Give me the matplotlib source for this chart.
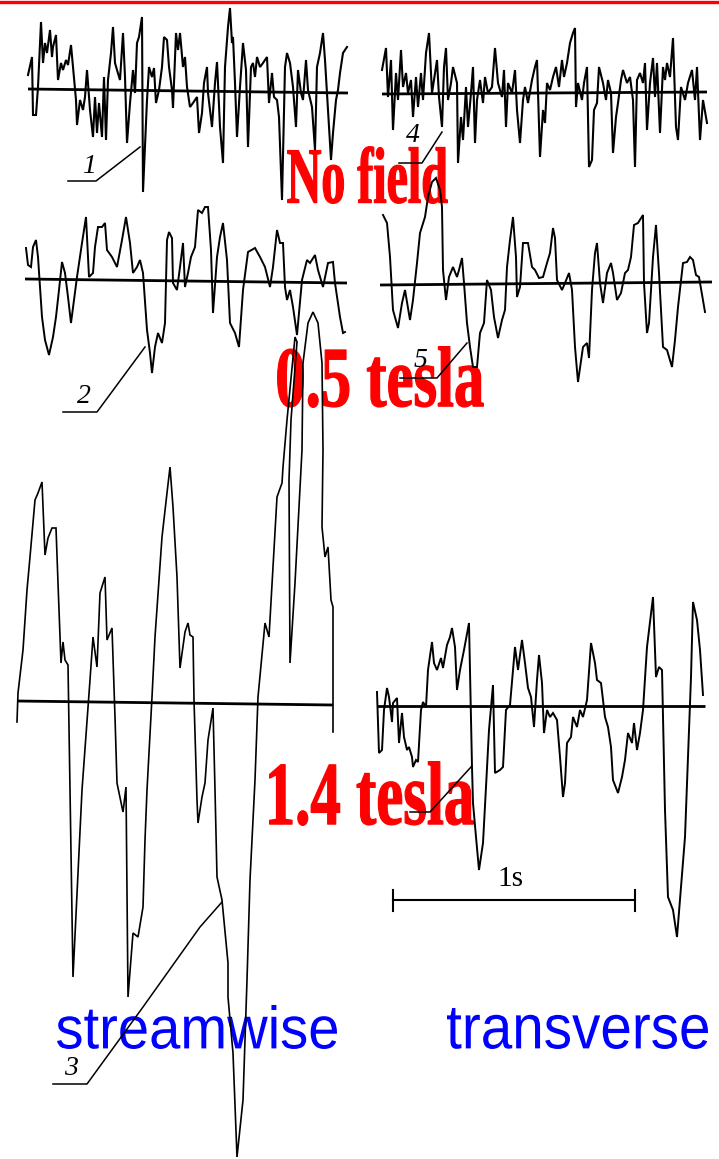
import matplotlib
matplotlib.use("Agg")
import matplotlib.pyplot as plt
from matplotlib.patheffects import AbstractPathEffect
from matplotlib.transforms import Affine2D

# ---------------- data (pixel units) ----------------
# trace 1: no field, streamwise
trace1_t = [28,32,33,36,38,41,43,45,47,50,52,53,56,58,61,63,66,68,71,73,76,77,80,83,85,87,90,93,95,97,99,102,104,106,108,111,113,115,117,120,123,125,127,130,133,135,137,139,142,143,147,149,152,154,156,159,162,164,167,169,172,173,176,178,180,183,185,187,190,193,197,199,202,204,207,208,212,215,217,220,223,225,228,230,232,233,235,237,240,243,246,248,251,253,255,257,260,263,267,269,272,274,277,279,282,285,287,290,293,296,298,301,303,306,308,312,315,317,320,323,325,328,331,333,336,338,340,343,347]
trace1_v = [75,57,115,115,87,22,63,43,53,30,57,47,35,80,63,70,60,65,45,67,100,125,100,110,97,70,110,137,97,133,103,137,77,140,80,53,27,63,70,80,33,77,143,103,70,93,43,37,17,192,100,67,77,68,103,90,67,37,40,67,90,108,33,50,33,67,57,87,107,103,97,133,113,83,67,93,127,83,62,127,163,67,27,8,43,37,83,137,87,43,70,147,67,63,77,57,67,63,57,103,73,97,100,117,200,67,53,63,87,127,70,93,100,60,90,107,150,67,53,33,60,110,160,133,100,90,73,53,47]

# trace 4: no field, transverse
trace4_t = [382,386,388,391,393,396,398,401,403,406,408,411,413,416,418,421,423,426,429,432,434,437,439,442,444,446,448,451,453,457,458,461,463,466,468,471,473,475,477,480,483,485,488,492,495,498,502,504,506,508,512,515,517,520,523,525,528,532,535,537,540,543,545,547,550,553,556,559,562,564,567,570,573,575,576,578,582,584,587,589,592,594,597,599,603,606,608,611,613,616,618,621,623,627,630,633,635,637,640,643,645,647,650,653,655,657,660,663,665,667,670,673,676,678,681,685,688,692,695,697,700,703,707]
trace4_v = [70,48,97,60,130,73,100,50,87,73,93,80,117,77,107,73,100,53,33,93,80,60,97,127,67,48,100,83,67,83,163,117,140,87,127,93,67,143,100,80,103,77,93,87,48,83,97,70,127,83,93,70,110,143,100,87,103,80,67,60,157,110,123,83,90,77,67,87,60,77,63,43,33,28,107,83,100,83,67,167,160,110,103,67,83,100,80,93,153,117,103,80,70,83,77,100,167,80,73,83,63,130,83,58,97,63,133,67,80,63,77,38,127,140,87,100,83,70,100,67,140,100,123]

# trace 2: 0.5 tesla, streamwise
trace2_t = [26,28,31,33,36,38,42,45,49,53,56,59,62,65,68,71,74,77,82,86,89,93,95,98,102,105,107,112,117,122,126,130,133,137,140,143,147,150,152,155,158,162,165,167,169,172,173,177,180,183,185,188,191,195,198,202,205,208,211,213,217,220,223,227,230,235,239,243,248,255,260,265,270,273,277,280,283,285,287,290,293,297,302,307,310,315,318,323,328,333,335,340,343,345]
trace2_v = [248,265,267,247,240,257,317,340,355,337,317,290,262,273,297,323,300,277,243,217,277,273,247,227,227,223,250,257,267,240,217,243,273,267,260,273,330,353,373,347,333,343,323,240,232,238,283,290,267,243,287,273,257,247,210,213,207,207,250,313,257,237,223,260,323,333,347,290,252,248,257,267,287,267,230,243,243,287,300,290,307,335,280,260,263,255,270,287,263,262,283,317,333,332]

# trace 5: 0.5 tesla, transverse
trace5_t = [383,387,390,393,398,402,405,410,413,417,420,425,428,432,436,440,442,443,446,449,453,457,459,462,464,467,470,473,477,480,484,487,491,494,498,502,505,507,510,513,516,517,520,523,528,532,535,539,543,547,550,553,555,557,562,565,569,572,575,578,583,587,589,592,595,597,600,603,607,611,613,617,621,625,628,631,634,638,643,644,647,649,653,656,659,663,667,672,675,678,683,687,690,693,696,699,705]
trace5_v = [215,223,257,310,328,303,290,320,300,263,233,217,197,182,178,190,207,270,300,277,267,277,270,258,283,323,347,367,367,333,323,280,290,317,338,320,310,267,240,217,257,297,287,243,243,267,270,278,277,263,253,228,238,280,290,283,273,290,347,382,347,343,358,290,253,243,283,303,273,263,273,300,293,273,270,257,225,223,215,283,333,323,257,225,273,347,350,367,340,307,263,262,257,260,275,277,312]

# trace 3: 1.4 tesla, streamwise
trace3_t = [17,18,23,27,30,35,38,42,45,48,52,56,58,61,63,65,68,73,82,90,93,97,100,105,107,112,115,117,123,126,128,133,138,143,145,147,152,155,162,167,170,173,177,180,185,188,190,193,194,197,198,202,205,208,213,215,217,222,228,228,233,237,243,247,250,255,258,265,269,273,277,282,283,287,295,297,291,289,290,295,302,303,308,313,318,322,323,322,325,328,331,333,333]
trace3_v = [722,693,650,590,557,500,493,482,555,538,528,528,583,663,642,660,665,977,790,680,637,667,593,577,640,628,717,783,812,787,997,933,937,907,840,790,697,637,537,493,467,507,577,668,632,623,635,637,700,800,823,797,783,740,708,790,877,900,963,997,1053,1157,1100,980,880,780,697,623,637,567,497,483,467,420,337,342,420,480,663,583,450,363,323,312,323,363,450,527,557,547,600,607,732]

# trace 6: 1.4 tesla, transverse
trace6_t = [377,379,382,384,387,389,392,393,397,399,402,404,407,409,412,413,416,418,421,423,426,428,432,434,437,441,443,447,450,452,455,457,460,464,469,472,473,476,479,483,486,489,493,495,500,503,506,510,515,518,522,525,528,531,534,537,539,542,544,547,550,553,557,560,563,565,567,571,573,577,580,583,587,591,595,597,601,605,608,611,613,618,622,625,628,632,634,637,640,643,647,653,656,659,662,665,668,673,677,681,685,688,691,693,697,700,703]
trace6_v = [692,753,750,710,688,697,722,703,698,743,713,737,750,747,757,767,760,762,710,702,707,670,642,663,670,658,668,645,637,628,647,690,670,650,623,767,803,837,870,843,787,730,685,773,770,767,710,705,647,670,640,663,688,697,727,680,655,683,733,710,717,713,720,757,797,783,743,737,717,727,710,717,700,643,663,680,683,717,727,747,780,793,777,760,733,743,723,750,733,710,647,597,677,667,670,810,897,910,937,887,837,757,677,602,620,650,695]

# zero lines: (x_start, level_start, x_end, level_end)
zero_lines = [(28, 89, 348, 93), (382, 94, 707, 92), (25, 279, 347, 283),
              (380, 285, 712, 282), (17, 701, 333, 705), (377, 706, 705, 706)]

curve_numbers = ["1", "2", "3", "4", "5"]
field_labels = ["No field", "0.5 tesla", "1.4 tesla"]
component_labels = ["streamwise", "transverse"]
scale_label = "1s"
scale_span = (393, 635)

# ---------------- helpers ----------------
class FitBox(AbstractPathEffect):
    """Scale a text's ink so it fills the box [x_left, x_right] x [y_top, y_bottom]
    (data units); optionally thicken it with a stroke of the same colour."""
    def __init__(self, ax, x_left, x_right, y_top, y_bottom, stroke=0.0):
        super().__init__()
        self.ax = ax
        self.box = (x_left, x_right, y_top, y_bottom)
        self.stroke = stroke

    def draw_path(self, renderer, gc, tpath, affine, rgbFace=None):
        ext = affine.transform_path(tpath).get_extents()
        xl, xr, yt, yb = self.box
        (dl, dt) = self.ax.transData.transform((xl, yt))
        (dr, db) = self.ax.transData.transform((xr, yb))
        pad = renderer.points_to_pixels(self.stroke) / 2.0
        sx = (dr - dl - 2 * pad) / ext.width
        sy = (abs(dt - db) - 2 * pad) / ext.height
        ybot = min(dt, db) + pad
        extra = (Affine2D().translate(-ext.x0, -ext.y0).scale(sx, sy)
                 .translate(dl + pad, ybot))
        if self.stroke > 0:
            gc0 = renderer.new_gc()
            gc0.copy_properties(gc)
            gc0.set_linewidth(self.stroke)
            gc0.set_foreground(rgbFace)
            gc0.set_joinstyle("round")
            renderer.draw_path(gc0, tpath, affine + extra, rgbFace)
            gc0.restore()
        else:
            renderer.draw_path(gc, tpath, affine + extra, rgbFace)


W, H = 719, 1159
fig = plt.figure(figsize=(W / 100, H / 100), dpi=100)
ax = fig.add_axes([0, 0, 1, 1])
ax.set_xlim(0, W)
ax.set_ylim(H, 0)
ax.axis("off")

# red rule at the top
ax.axhline(1.5, color="#ff0000", lw=2.4, zorder=5)

# zero lines
for x0, y0, x1, y1 in zero_lines:
    ax.plot([x0, x1], [y0, y1], color="black", lw=2.0, solid_capstyle="butt", zorder=3)

# traces
for t, v, lw in [(trace1_t, trace1_v, 1.5), (trace4_t, trace4_v, 1.5),
                 (trace2_t, trace2_v, 1.4), (trace5_t, trace5_v, 1.4),
                 (trace3_t, trace3_v, 1.2), (trace6_t, trace6_v, 1.4)]:
    ax.plot(t, v, color="black", lw=lw, solid_joinstyle="miter", zorder=4)

# leaders from curve numbers
leaders = [
    ([68, 96, 140], [181, 181, 147]),
    ([63, 97, 145], [412, 412, 347]),
    ([53, 87, 143, 200, 222], [1084, 1084, 1007, 927, 902]),
    ([399, 422, 442], [163, 163, 132]),
    ([400, 437, 467], [378, 378, 343]),
    ([410, 430, 471], [812, 812, 767]),
]
for lx, ly in leaders:
    ax.plot(lx, ly, color="black", lw=1.1, zorder=4)

num_pos = [(82, 173), (77, 403), (64, 1075), (406, 142), (414, 367)]
for s, (x, y) in zip(curve_numbers, num_pos):
    ax.text(x, y, s, fontsize=20, family="Liberation Serif", style="italic",
            ha="left", va="baseline", color="black", zorder=4)

# scale bar
ax.plot(list(scale_span), [900, 900], color="black", lw=1.5, zorder=4)
for xs in scale_span:
    ax.plot([xs, xs], [890, 911], color="black", lw=1.5, zorder=4)
ax.text(510, 886, scale_label, fontsize=21, family="Liberation Serif",
        ha="center", va="baseline", color="black", zorder=4)

# red field labels (heavy, condensed serif), ink box: left, right, top, bottom
red_boxes = [(287, 448, 146, 204), (277, 484, 346, 408), (269, 474, 761, 826)]
for s, (xl, xr, yt, yb) in zip(field_labels, red_boxes):
    t = ax.text((xl + xr) / 2, yb, s, fontsize=30, family="Liberation Serif",
                weight="bold", color="#ff0000", ha="center", va="baseline", zorder=2)
    t.set_path_effects([FitBox(ax, xl, xr, yt, yb, stroke=0.9)])

# blue component labels
blue_boxes = [(57, 337, 1005, 1049), (447, 708, 1008, 1049)]
for s, (xl, xr, yt, yb) in zip(component_labels, blue_boxes):
    t = ax.text((xl + xr) / 2, yb, s, fontsize=36, family="Liberation Sans",
                color="#0000ff", ha="center", va="baseline", zorder=2)
    t.set_path_effects([FitBox(ax, xl, xr, yt, yb)])

fig.savefig("out.png", dpi=100)
